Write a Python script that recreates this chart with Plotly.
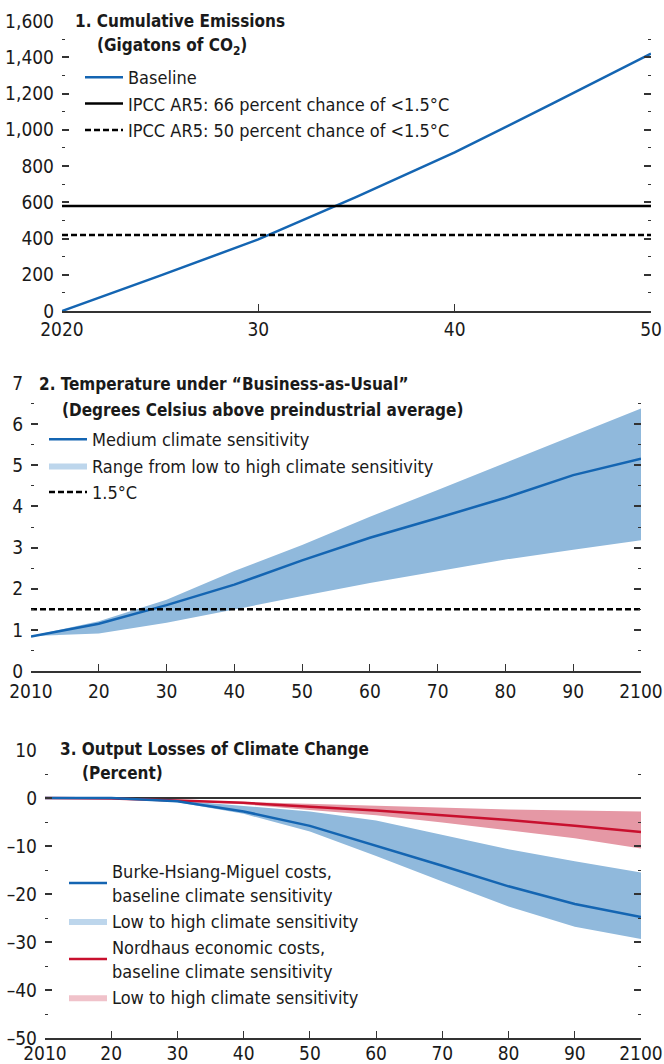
import plotly.graph_objects as go

W, H = 664, 1064
def px(x): return x / W
def py(y): return 1 - y / H

FONT = "DejaVu Sans Condensed, Liberation Sans Narrow, sans-serif"
BLUE = "#1465b2"
BLUE_BAND = "#90b9dc"
BLUE_SWATCH = "#bdd6ec"
RED = "#c8102e"
RED_BAND = "#e598a5"
RED_SWATCH = "#f0c2ca"
AX = "#333333"

# ---------------- Panel 1: Cumulative emissions ----------------
p1_years = [2020, 2025, 2030, 2035, 2040, 2045, 2050]
p1_baseline = [0, 195, 395, 630, 875, 1145, 1420]
p1_ipcc66 = 580
p1_ipcc50 = 420
p1_xtickvals = [2020, 2030, 2040, 2050]
p1_xticktext = ["2020", "30", "40", "50"]

# ---------------- Panel 2: Temperature ----------------
p2_years = [2010, 2020, 2030, 2040, 2050, 2060, 2070, 2080, 2090, 2100]
p2_medium = [0.84, 1.15, 1.60, 2.10, 2.69, 3.24, 3.72, 4.21, 4.76, 5.16]
p2_low = [0.85, 0.91, 1.17, 1.50, 1.82, 2.14, 2.43, 2.71, 2.95, 3.18]
p2_high = [0.85, 1.21, 1.73, 2.43, 3.06, 3.75, 4.40, 5.06, 5.72, 6.38]
p2_threshold = 1.5
p2_xticktext = ["2010", "20", "30", "40", "50", "60", "70", "80", "90", "2100"]

# ---------------- Panel 3: Output losses ----------------
p3_years = [2010, 2020, 2030, 2040, 2050, 2060, 2070, 2080, 2090, 2100]
bhm_med = [0, 0, -0.7, -2.8, -5.8, -9.9, -14.1, -18.4, -22.1, -24.8]
bhm_high = [0, 0, -0.5, -1.6, -2.8, -4.7, -7.7, -10.7, -13.2, -15.5]
bhm_low = [0, 0, -0.9, -3.3, -7.0, -12.1, -17.4, -22.6, -26.8, -29.4]
nord_med = [0, -0.1, -0.5, -1.0, -1.8, -2.6, -3.6, -4.6, -5.8, -7.1]
nord_high = [0, -0.1, -0.4, -0.8, -1.2, -1.7, -2.1, -2.4, -2.6, -2.8]
nord_low = [0, -0.1, -0.6, -1.3, -2.5, -3.6, -5.1, -6.7, -8.4, -10.5]
p3_xticktext = ["2010", "20", "30", "40", "50", "60", "70", "80", "90", "2100"]
p3_ytickvals = [10, 0, -10, -20, -30, -40, -50]
p3_yticktext = ["10", "0", "–10", "–20", "–30", "–40", "–50"]

fig = go.Figure()

# Panel 1 traces
fig.add_trace(go.Scatter(x=p1_years, y=p1_baseline, mode="lines", name="Baseline",
                         line=dict(color=BLUE, width=2.5), xaxis="x", yaxis="y", legend="legend"))
fig.add_trace(go.Scatter(x=[p1_years[0], p1_years[-1]], y=[p1_ipcc66, p1_ipcc66], mode="lines",
                         name="IPCC AR5: 66 percent chance of <1.5°C",
                         line=dict(color="black", width=2.5), xaxis="x", yaxis="y", legend="legend"))
fig.add_trace(go.Scatter(x=[p1_years[0], p1_years[-1]], y=[p1_ipcc50, p1_ipcc50], mode="lines",
                         name="IPCC AR5: 50 percent chance of <1.5°C",
                         line=dict(color="black", width=2.5, dash="6px,3px"), xaxis="x", yaxis="y", legend="legend"))

# Panel 2 traces
fig.add_trace(go.Scatter(x=p2_years, y=p2_low, mode="lines", line=dict(width=0, color=BLUE_BAND),
                         showlegend=False, xaxis="x2", yaxis="y3", hoverinfo="skip"))
fig.add_trace(go.Scatter(x=p2_years, y=p2_high, mode="lines", line=dict(width=0, color=BLUE_BAND),
                         fill="tonexty", fillcolor=BLUE_BAND, showlegend=False, xaxis="x2", yaxis="y3"))
fig.add_trace(go.Scatter(x=p2_years, y=p2_medium, mode="lines", name="Medium climate sensitivity",
                         line=dict(color=BLUE, width=2.5), xaxis="x2", yaxis="y3", legend="legend2"))
fig.add_trace(go.Scatter(x=[None], y=[None], mode="lines", name="Range from low to high climate sensitivity",
                         line=dict(width=0, color=BLUE_SWATCH), fill="toself", fillcolor=BLUE_SWATCH,
                         xaxis="x2", yaxis="y3", legend="legend2"))
fig.add_trace(go.Scatter(x=[p2_years[0], p2_years[-1]], y=[p2_threshold, p2_threshold], mode="lines",
                         name="1.5°C", line=dict(color="black", width=2.5, dash="6px,3px"),
                         xaxis="x2", yaxis="y3", legend="legend2"))

# Panel 3 traces
fig.add_trace(go.Scatter(x=p3_years, y=bhm_low, mode="lines", line=dict(width=0, color=BLUE_BAND),
                         showlegend=False, xaxis="x3", yaxis="y5", hoverinfo="skip"))
fig.add_trace(go.Scatter(x=p3_years, y=bhm_high, mode="lines", line=dict(width=0, color=BLUE_BAND),
                         fill="tonexty", fillcolor=BLUE_BAND, showlegend=False, xaxis="x3", yaxis="y5"))
fig.add_trace(go.Scatter(x=p3_years, y=nord_low, mode="lines", line=dict(width=0, color=RED_BAND),
                         showlegend=False, xaxis="x3", yaxis="y5", hoverinfo="skip"))
fig.add_trace(go.Scatter(x=p3_years, y=nord_high, mode="lines", line=dict(width=0, color=RED_BAND),
                         fill="tonexty", fillcolor=RED_BAND, showlegend=False, xaxis="x3", yaxis="y5"))
fig.add_trace(go.Scatter(x=p3_years, y=nord_med, mode="lines",
                         name="Nordhaus economic costs,<br>baseline climate sensitivity",
                         line=dict(color=RED, width=2.5), xaxis="x3", yaxis="y5", legend="legend3",
                         legendrank=3))
fig.add_trace(go.Scatter(x=p3_years, y=bhm_med, mode="lines",
                         name="Burke-Hsiang-Miguel costs,<br>baseline climate sensitivity",
                         line=dict(color=BLUE, width=2.5), xaxis="x3", yaxis="y5", legend="legend3",
                         legendrank=1))
fig.add_trace(go.Scatter(x=[None], y=[None], mode="lines", name="Low to high climate sensitivity",
                         line=dict(width=0, color=BLUE_SWATCH), fill="toself", fillcolor=BLUE_SWATCH,
                         xaxis="x3", yaxis="y5", legend="legend3", legendrank=2))
fig.add_trace(go.Scatter(x=[None], y=[None], mode="lines", name="Low to high climate sensitivity ",
                         line=dict(width=0, color=RED_SWATCH), fill="toself", fillcolor=RED_SWATCH,
                         xaxis="x3", yaxis="y5", legend="legend3", legendrank=4))

# invisible helper traces for the right-hand tick axes
fig.add_trace(go.Scatter(x=[p1_years[0]], y=[0], mode="markers", marker=dict(opacity=0),
                         showlegend=False, xaxis="x", yaxis="y2", hoverinfo="skip"))
fig.add_trace(go.Scatter(x=[p2_years[0]], y=[0], mode="markers", marker=dict(opacity=0),
                         showlegend=False, xaxis="x2", yaxis="y4", hoverinfo="skip"))
fig.add_trace(go.Scatter(x=[p3_years[0]], y=[0], mode="markers", marker=dict(opacity=0),
                         showlegend=False, xaxis="x3", yaxis="y6", hoverinfo="skip"))

tickfont = dict(family=FONT, size=19, color="#1a1a1a")

def xaxis(domain, anchor, rng, tickvals, ticktext, standoff=0):
    return dict(domain=domain, anchor=anchor, range=rng, tickvals=tickvals, ticktext=ticktext,
                ticks="inside", ticklen=7, tickwidth=1.2, tickcolor=AX, showline=True,
                linecolor=AX, linewidth=1.5, showgrid=False, zeroline=False, tickfont=tickfont,
                fixedrange=True, automargin=False, ticklabelstandoff=standoff)

def yaxis(domain, anchor, rng, dtick, minor_dtick, side="left", overlaying=None, labels=True,
          zeroline=False, tickvals=None, ticktext=None):
    d = dict(domain=domain, anchor=anchor, range=rng, dtick=dtick, tick0=0, side=side,
             ticks="inside", ticklen=7, tickwidth=1.5, tickcolor=AX, showline=False,
             showgrid=False, zeroline=zeroline, zerolinecolor=AX, zerolinewidth=1.5,
             showticklabels=labels, tickfont=tickfont, separatethousands=True,
             ticklabelstandoff=7, automargin=False, fixedrange=True,
             minor=dict(dtick=minor_dtick, tick0=0, ticks="inside", ticklen=3, tickwidth=1.2,
                        tickcolor=AX, showgrid=False))
    if tickvals is not None:
        d["tickmode"] = "array"
        d["tickvals"] = tickvals
        d["ticktext"] = ticktext
    if overlaying:
        d["overlaying"] = overlaying
    return d

x1dom = [px(62), px(651)]
y1dom = [py(311), py(21)]
x2dom = [px(31), px(641)]
y2dom = [py(671), py(383)]
x3dom = [px(45), px(641)]
y3dom = [py(1038), py(750)]

legfont = dict(family=FONT, size=18, color="#1a1a1a")

fig.update_layout(
    width=W, height=H,
    margin=dict(l=0, r=0, t=0, b=0, pad=0, autoexpand=False),
    paper_bgcolor="white", plot_bgcolor="white",
    font=dict(family=FONT, size=18, color="#1a1a1a"),
    xaxis=xaxis(x1dom, "y", [2020, 2050], p1_xtickvals, p1_xticktext),
    yaxis=yaxis(y1dom, "x", [0, 1600], 200, 100),
    yaxis2=yaxis(y1dom, "x", [0, 1600], 200, 100, side="right", overlaying="y", labels=False),
    xaxis2=xaxis(x2dom, "y3", [2010, 2100], p2_years, p2_xticktext, standoff=2),
    yaxis3=yaxis(y2dom, "x2", [0, 7], 1, 0.5),
    yaxis4=yaxis(y2dom, "x2", [0, 7], 1, 0.5, side="right", overlaying="y3", labels=False),
    xaxis3=xaxis(x3dom, "y5", [2010, 2100], p3_years, p3_xticktext, standoff=-3),
    yaxis5=yaxis(y3dom, "x3", [-50, 10], 10, 5, zeroline=True,
                 tickvals=p3_ytickvals, ticktext=p3_yticktext),
    yaxis6=yaxis(y3dom, "x3", [-50, 10], 10, 5, side="right", overlaying="y5", labels=False),
    legend=dict(x=px(80), y=py(59), xanchor="left", yanchor="top", bgcolor="rgba(0,0,0,0)",
                font=legfont, itemwidth=38, tracegroupgap=0, traceorder="normal"),
    legend2=dict(x=px(44), y=py(421), xanchor="left", yanchor="top", bgcolor="rgba(0,0,0,0)",
                 font=legfont, itemwidth=38, tracegroupgap=0, traceorder="normal"),
    legend3=dict(x=px(64), y=py(853), xanchor="left", yanchor="top", bgcolor="rgba(0,0,0,0)",
                 font=legfont, itemwidth=38, tracegroupgap=0, traceorder="normal"),
    showlegend=True,
    hovermode=False,
)

titlefont = dict(family=FONT, size=17, color="#1a1a1a", weight="bold")
annos = [
    ("1. Cumulative Emissions", 73, 21),
    ("(Gigatons of CO<sub>2</sub>)", 95, 46),
    ("2. Temperature under “Business-as-Usual”", 37, 384),
    ("(Degrees Celsius above preindustrial average)", 60, 410),
    ("3. Output Losses of Climate Change", 58, 749),
    ("(Percent)", 80, 773),
]
for text, x, y in annos:
    fig.add_annotation(text=text, xref="paper", yref="paper", x=px(x), y=py(y),
                       xanchor="left", yanchor="middle", showarrow=False, font=titlefont)

# remove the default page margin so the figure sits at the window's top-left corner
fig.write_html("out.html", config={"displayModeBar": False},
               post_script="document.body.style.margin='0';document.body.style.overflow='hidden';")
